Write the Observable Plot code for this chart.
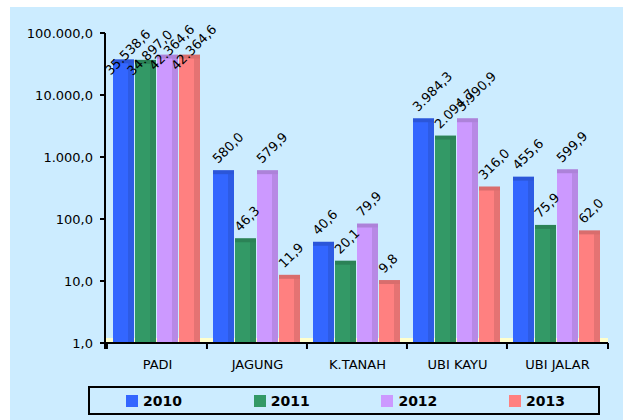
<!DOCTYPE html>
<html><head><meta charset="utf-8">
<script src="https://cdn.jsdelivr.net/npm/d3@7"></script>
<script src="https://cdn.jsdelivr.net/npm/@observablehq/plot@0.6"></script>
<style>
body{margin:0;background:#fff;font-family:"DejaVu Sans",sans-serif;width:623px;height:420px;overflow:hidden;}
#bg{position:absolute;left:10px;top:7px;right:0;bottom:0;background:#CCECFF;}
#wrap{position:absolute;left:0;top:0;width:623px;}
#legend{position:relative;margin-left:88px;margin-top:11px;width:508px;height:25px;border:2px solid #000;}
.item{position:absolute;top:0;height:25px;display:flex;align-items:center;font-weight:bold;font-size:14px;color:#000;}
.sw{width:12px;height:12px;margin-right:5px;}
</style></head>
<body>
<div id="bg"></div>
<div id="wrap"><div id="chart"></div><div id="legend"></div></div>
<script>
const categories = ["PADI", "JAGUNG", "K.TANAH", "UBI KAYU", "UBI JALAR"];
const years = ["2010", "2011", "2012", "2013"];
const v2010 = [35538.6, 580.0, 40.6, 3984.3, 455.6];
const v2011 = [34897.0, 46.3, 20.1, 2094.7, 75.9];
const v2012 = [42364.6, 579.9, 79.9, 3990.9, 599.9];
const v2013 = [42364.6, 11.9, 9.8, 316.0, 62.0];
const yTicks = [1, 10, 100, 1000, 10000, 100000];
const colors = ["#3366FF", "#339966", "#CC99FF", "#FF8080"];

const series = [v2010, v2011, v2012, v2013];
const data = categories.flatMap((c, i) => years.map((yr, j) => ({cat: c, year: yr, value: series[j][i]})));
const fmt = d3.formatLocale({decimal: ",", thousands: ".", grouping: [3], currency: ["", ""]}).format(",.1f");

const plot = Plot.plot({
  width: 623, height: 375,
  marginTop: 33, marginBottom: 32, marginLeft: 105, marginRight: 15,
  style: {background: "transparent", fontFamily: "DejaVu Sans", fontSize: "13px", color: "#000", overflow: "visible"},
  fx: {domain: categories, paddingInner: 0.12, paddingOuter: 0.06, label: null, axis: "bottom", tickSize: 0, tickPadding: 16},
  x: {domain: years, axis: null, paddingInner: 0.03, paddingOuter: 0},
  y: {type: "log", domain: [1, 100000], ticks: yTicks, tickFormat: fmt, label: null, tickSize: 0, tickPadding: 8},
  color: {domain: years, range: colors},
  marks: [
    Plot.barY(data, {fx: "cat", x: "year", y1: 1, y2: "value", fill: "year"}),
    Plot.barY(data, {fx: "cat", x: "year", y1: 1, y2: "value", fill: "#000", fillOpacity: 0.1, insetLeft: 15}),
    Plot.tickY(data, {fx: "cat", x: "year", y: "value", stroke: "year", strokeWidth: 4}),
    Plot.tickY(data, {fx: "cat", x: "year", y: "value", stroke: "#000", strokeOpacity: 0.15, strokeWidth: 4}),
    Plot.text(data, {filter: d => d.value < 10000, fx: "cat", x: "year", y: "value", text: d => fmt(d.value),
      rotate: -45, textAnchor: "start", dx: -9, dy: -11, fontSize: 13, fill: "#000"}),
    Plot.text(data, {filter: d => d.value >= 10000, fx: "cat", x: "year", y: "value", text: d => fmt(d.value),
      rotate: -45, textAnchor: "middle", dx: 4, dy: -9, fontSize: 13, fill: "#000"})
  ]
});
document.getElementById("chart").appendChild(plot);

// axis lines, ticks and the chart floor, from the plot's own scales
const svg = d3.select(plot);
const fx = plot.scale("fx"), ys = plot.scale("y");
const y0 = ys.apply(1), yTop = ys.apply(100000);
const [xl, xr] = fx.range;

// keep the y tick labels just left of the axis ticks
const yl = svg.select("g[aria-label='y-axis tick label']");
if (!yl.empty()) {
  const svgLeft = plot.getBoundingClientRect().left;
  let right = -Infinity;
  yl.selectAll("text").each(function() { right = Math.max(right, this.getBoundingClientRect().right - svgLeft); });
  const shift = (xl - 12) - right;
  const t = yl.attr("transform") || "";
  yl.attr("transform", `translate(${shift},0) ${t}`);
}

const step = (xr - xl) / (categories.length - fx.paddingInner + 2 * fx.paddingOuter);
const bw = step * (1 - fx.paddingInner);
svg.insert("rect", ":first-child").attr("x", xl).attr("width", xr - xl).attr("y", y0 - 5).attr("height", 5).attr("fill", "#FFFFCC");
const bounds = categories.map(c => fx.apply(c) - (step - bw) / 2).concat([xr]);
const g = svg.append("g").attr("stroke", "#000").attr("stroke-width", 2);
g.append("line").attr("x1", xl).attr("x2", xr).attr("y1", y0).attr("y2", y0);
g.append("line").attr("x1", xl).attr("x2", xl).attr("y1", yTop).attr("y2", y0 + 6);
bounds.forEach(b => g.append("line").attr("x1", b).attr("x2", b).attr("y1", y0).attr("y2", y0 + 6));
yTicks.forEach(t => g.append("line").attr("x1", xl - 5).attr("x2", xl).attr("y1", ys.apply(t)).attr("y2", ys.apply(t)));

// legend
const lg = d3.select("#legend");
years.forEach((yr, i) => {
  const it = lg.append("div").attr("class", "item").style("left", (36 + i * 127.7) + "px");
  it.append("div").attr("class", "sw").style("background", colors[i]);
  it.append("span").text(yr);
});
</script>
</body></html>
